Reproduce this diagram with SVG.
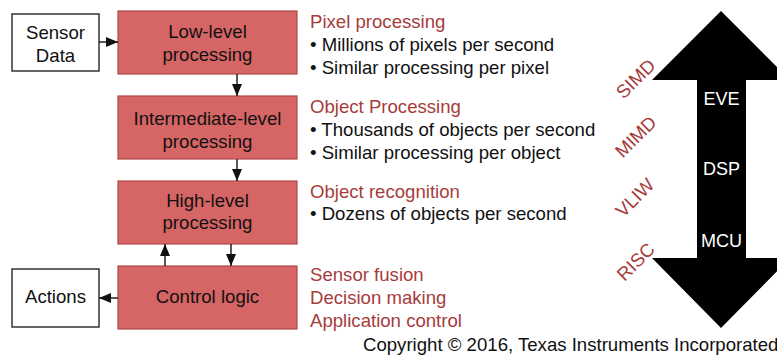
<svg xmlns="http://www.w3.org/2000/svg" width="777" height="357" viewBox="0 0 777 357">
<style>
text{font-family:"Liberation Sans",Arial,sans-serif;font-size:18.6px}
.box{fill:#d66565;stroke:#b04848;stroke-width:1.2}
.wbox{fill:#fff;stroke:#333;stroke-width:1.5}
.c{text-anchor:middle;fill:#111}
.red{fill:#a63c3c}
.blk{fill:#111}
.wht{fill:#fff;text-anchor:middle;font-size:18px}
.rot{fill:#a63c3c;text-anchor:middle}
.con{stroke:#222;stroke-width:1.5;fill:none;marker-end:url(#ah)}
</style>
<defs>
<marker id="ah" viewBox="0 0 12 10" refX="12" refY="5" markerWidth="12" markerHeight="10" markerUnits="userSpaceOnUse" orient="auto">
<path d="M0,0 L12,5 L0,10 Z" fill="#111"/>
</marker>
</defs>
<rect width="777" height="357" fill="#fff"/>
<g id="sensor"><rect class="wbox" x="12" y="14" width="87" height="57"/><text class="c" x="55.5" y="39">Sensor</text><text class="c" x="55.5" y="62">Data</text></g>
<g id="low"><rect class="box" x="118" y="11" width="179" height="63"/><text class="c" x="207.5" y="38">Low-level</text><text class="c" x="207.5" y="61">processing</text></g>
<g id="mid"><rect class="box" x="118" y="96" width="179" height="63"/><text class="c" x="207.5" y="125">Intermediate-level</text><text class="c" x="207.5" y="148">processing</text></g>
<g id="high"><rect class="box" x="118" y="181" width="179" height="63"/><text class="c" x="207.5" y="207">High-level</text><text class="c" x="207.5" y="229">processing</text></g>
<g id="control"><rect class="box" x="118" y="266" width="179" height="63"/><text class="c" x="207.5" y="303">Control logic</text></g>
<g id="actions"><rect class="wbox" x="12" y="269" width="87" height="58"/><text class="c" x="55.5" y="303">Actions</text></g>
<g id="connectors">
<line class="con" x1="99" y1="42" x2="118" y2="42"/>
<line class="con" x1="237" y1="74" x2="237" y2="96"/>
<line class="con" x1="237" y1="159" x2="237" y2="181"/>
<line class="con" x1="165" y1="266" x2="165" y2="244"/>
<line class="con" x1="231" y1="244" x2="231" y2="266"/>
<line class="con" x1="118" y1="298" x2="99" y2="298"/>
</g>
<g id="notes">
<text class="red" x="310" y="28">Pixel processing</text>
<text class="blk" x="310" y="51">• Millions of pixels per second</text>
<text class="blk" x="310" y="74">• Similar processing per pixel</text>
<text class="red" x="310" y="113">Object Processing</text>
<text class="blk" x="310" y="136">• Thousands of objects per second</text>
<text class="blk" x="310" y="159">• Similar processing per object</text>
<text class="red" x="310" y="198">Object recognition</text>
<text class="blk" x="310" y="220">• Dozens of objects per second</text>
<text class="red" x="310" y="281">Sensor fusion</text>
<text class="red" x="310" y="304">Decision making</text>
<text class="red" x="310" y="327">Application control</text>
</g>
<g id="bigarrow">
<path d="M721,11 L790,80 L746,80 L746,258 L790,258 L721,328 L652,258 L697,258 L697,80 L652,80 Z" fill="#000"/>
<text class="wht" x="721.5" y="105">EVE</text>
<text class="wht" x="721.5" y="175">DSP</text>
<text class="wht" x="721.5" y="247">MCU</text>
</g>
<g id="isa">
<text class="rot" x="636" y="85" transform="rotate(-45 636 79)">SIMD</text>
<text class="rot" x="636" y="143" transform="rotate(-45 636 137)">MIMD</text>
<text class="rot" x="635" y="204" transform="rotate(-45 635 198)">VLIW</text>
<text class="rot" x="636" y="268" transform="rotate(-45 636 262)">RISC</text>
</g>
<text class="blk" x="363" y="351">Copyright © 2016, Texas Instruments Incorporated</text>
</svg>
